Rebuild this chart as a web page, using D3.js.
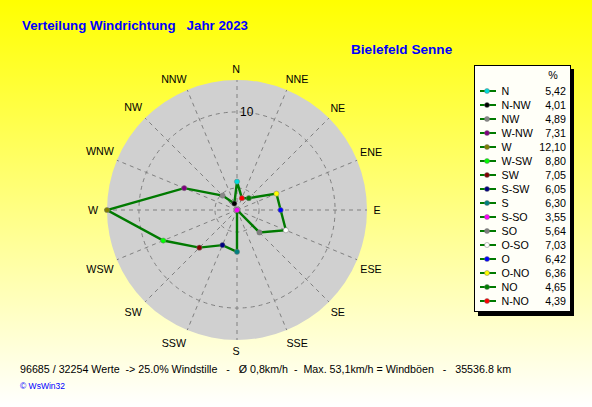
<!DOCTYPE html>
<html><head><meta charset="utf-8">
<style>html,body{margin:0;padding:0;overflow:hidden}svg{display:block}text{font-family:"Liberation Sans",Arial,sans-serif}</style>
<script src="https://d3js.org/d3.v7.min.js"></script></head><body><script>
const chartLabels=["N","NNE","NE","ENE","E","ESE","SE","SSE","S","SSW","SW","WSW","W","WNW","NW","NNW"];
const labelShiftX=[-1,5,-1,1,-4,1,-1,5,-1,-8,-2,-4,0,-4,-2,-8];
const labelShiftY=[3,2,0,-3,0,4,0,0,-3,0,0,4,0,-4,-1,2];
const legendNames=["N","N-NW","NW","W-NW","W","W-SW","SW","S-SW","S","S-SO","SO","O-SO","O","O-NO","NO","N-NO"];
const legendValues=[5.42,4.01,4.89,7.31,12.10,8.80,7.05,6.05,6.30,3.55,5.64,7.03,6.42,6.36,4.65,4.39];
const legendAngles=[0,15,14,13,12,11,10,9,8,7,6,5,4,3,2,1];
const markerColors=["#00dddd","#000000","#888888","#800080","#808000","#00ff00","#800000","#000080","#008080","#ff00ff","#808080","#ffffff","#0000ff","#ffff00","#008000","#ff0000"];
const ringTicks=[5,10];
const W=592,H=407,cx=237,cy=210,R=130;
const svg=d3.select("body").append("svg").attr("width",W).attr("height",H);
const defs=svg.append("defs");
const g=defs.append("linearGradient").attr("id","bg").attr("x1",0).attr("y1",0).attr("x2",0).attr("y2",1);
g.append("stop").attr("offset",0).attr("stop-color","#ffff00");
g.append("stop").attr("offset",1).attr("stop-color","#ffffff");
svg.append("rect").attr("width",W).attr("height",H).attr("fill","url(#bg)");
const r=d3.scaleLinear().domain([3.55,12.10]).range([0,R]);
const ang=d3.scaleLinear().domain([0,16]).range([0,2*Math.PI]);
const px=(i,rad)=>cx+rad*Math.sin(ang(i)),py=(i,rad)=>cy-rad*Math.cos(ang(i));
svg.append("circle").attr("cx",cx).attr("cy",cy).attr("r",R).attr("fill","#d0d0d0");
const dash="#808080";
ringTicks.forEach(t=>svg.append("circle").attr("cx",cx).attr("cy",cy).attr("r",r(t)).attr("fill","none").attr("stroke",dash).attr("stroke-dasharray","4 4"));
d3.range(16).forEach(i=>svg.append("line").attr("x1",cx).attr("y1",cy).attr("x2",px(i,R)).attr("y2",py(i,R)).attr("stroke",dash).attr("stroke-dasharray","4 4"));
svg.append("text").attr("x",cx+3).attr("y",cy-r(10)+4).attr("font-size",12).attr("fill","#000").text("10");
chartLabels.forEach((l,i)=>svg.append("text").attr("x",px(i,R+14)+labelShiftX[i]).attr("y",py(i,R+14)+4+labelShiftY[i]).attr("text-anchor","middle").attr("font-size",10.7).attr("fill","#000").text(l));
const pts=legendValues.map((v,k)=>[px(legendAngles[k],r(v)),py(legendAngles[k],r(v))]);
svg.append("path").attr("d",d3.line().curve(d3.curveLinearClosed)(pts)).attr("fill","none").attr("stroke","#007a00").attr("stroke-width",2.4);
pts.forEach((p,k)=>svg.append("circle").attr("cx",p[0]).attr("cy",p[1]).attr("r",2.6).attr("fill",markerColors[k]).attr("stroke","#777").attr("stroke-width",.5));
svg.append("text").attr("x",22).attr("y",30).attr("font-size",13.3).attr("font-weight","bold").attr("fill","#0000ff").attr("xml:space","preserve").text("Verteilung Windrichtung   Jahr 2023");
svg.append("text").attr("x",351).attr("y",54).attr("font-size",13.6).attr("font-weight","bold").attr("fill","#0000ff").text("Bielefeld Senne");
svg.append("rect").attr("x",478).attr("y",69).attr("width",96).attr("height",247).attr("fill","#000");
svg.append("rect").attr("x",474.5).attr("y",65.5).attr("width",96).attr("height",246).attr("fill","#fffff8").attr("stroke","#000");
svg.append("text").attr("x",553).attr("y",79).attr("text-anchor","middle").attr("font-size",10.7).text("%");
legendNames.forEach((n,k)=>{const y=91+k*14;
 svg.append("line").attr("x1",480).attr("x2",496).attr("y1",y).attr("y2",y).attr("stroke","#007a00").attr("stroke-width",2);
 svg.append("circle").attr("cx",487).attr("cy",y).attr("r",2.5).attr("fill",markerColors[k]).attr("stroke","#777").attr("stroke-width",.5);
 svg.append("text").attr("x",501.5).attr("y",y+4).attr("font-size",10.7).text(n);
 svg.append("text").attr("x",566).attr("y",y+4).attr("text-anchor","end").attr("font-size",10.7).text(legendValues[k].toFixed(2).replace(".",","));
});
svg.append("text").attr("x",20).attr("y",373).attr("font-size",10.7).attr("xml:space","preserve").text("96685 / 32254 Werte  -> 25.0% Windstille   -   Ø 0,8km/h  -  Max. 53,1km/h = Windböen   -   35536.8 km");
svg.append("text").attr("x",20).attr("y",389).attr("font-size",8.5).attr("fill","#0000ff").text("© WsWin32");
</script></body></html>
